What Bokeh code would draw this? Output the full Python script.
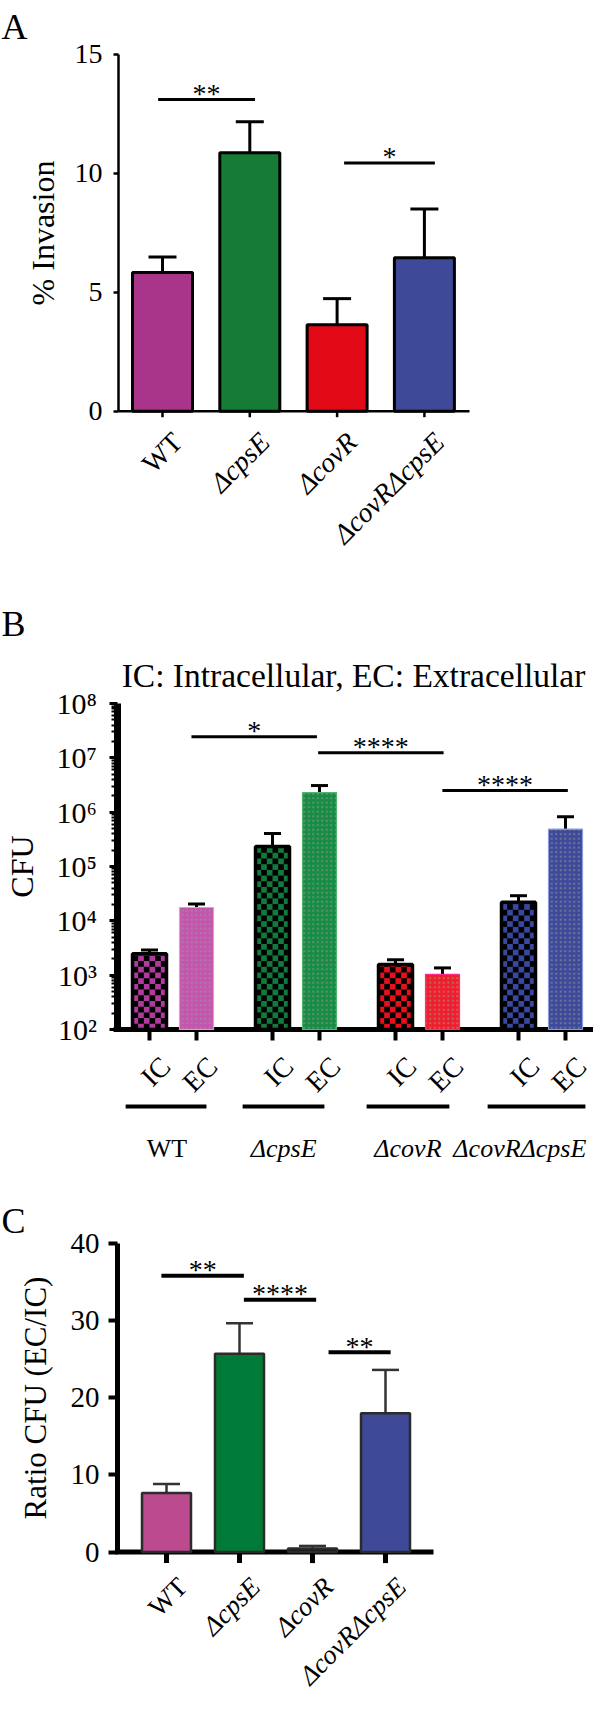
import math
from bokeh.plotting import figure
from bokeh.models import (LinearAxis, LogAxis, FixedTicker, CustomJSTickFormatter,
                          Range1d, ColumnDataSource, LogScale)
from bokeh.layouts import column
from bokeh.embed import file_html
from bokeh.resources import INLINE
from bokeh.core.properties import value, field

FONT = "Liberation Serif"
W = 593

# ---------------- data ----------------
strains = ["WT", "\u0394cpsE", "\u0394covR", "\u0394covR\u0394cpsE"]
strain_style = ["normal", "italic", "italic", "italic"]

# Panel A: % invasion
inv_mean = [5.83, 10.86, 3.63, 6.45]
inv_err = [0.65, 1.30, 1.10, 2.05]
inv_colors = ["#A8358A", "#157B35", "#E20A16", "#3E4A97"]
inv_ticks = [0, 5, 10, 15]
inv_sig_x0 = [-0.05, 2.08]
inv_sig_x1 = [1.06, 3.12]
inv_sig_y = [13.1, 10.43]
inv_sig_txt = ["**", "*"]

# Panel B: CFU (log)
cfu_ic = [2480, 233000, 1580, 22100]
cfu_ic_upper = [2900, 405000, 1920, 29000]
cfu_ec = [17600, 2300000, 1035, 486000]
cfu_ec_upper = [20500, 3090000, 1360, 824000]
ic_colors = ["#B03A9E", "#127A3C", "#E8101C", "#3848A0"]
ec_colors = ["#C455AD", "#168C44", "#F01E2C", "#3D4A9A"]
ec_edges = ["#E59AD0", "#52B472", "#FF2A8A", "#8F9AD8"]
cfu_decades = [1e2, 1e3, 1e4, 1e5, 1e6, 1e7, 1e8]
cfu_sig_x0 = [0.15, 1.18, 2.19]
cfu_sig_x1 = [1.17, 2.20, 3.21]
cfu_sig_y = [2.45e7, 1.245e7, 2.5e6]
cfu_sig_txt = ["*", "****", "****"]
bar_kind = ["IC", "EC"]

# Panel C: ratio EC/IC
ratio_mean = [7.64, 25.7, 0.48, 18.0]
ratio_err = [1.19, 3.95, 0.32, 5.6]
ratio_colors = ["#BB4A8F", "#007A37", "#1A1A1A", "#3E4A97"]
ratio_ticks = [0, 10, 20, 30, 40]
ratio_sig_x0 = [-0.07, 1.06, 2.22]
ratio_sig_x1 = [1.06, 2.05, 3.07]
ratio_sig_y = [35.8, 32.7, 25.9]
ratio_sig_txt = ["**", "****", "**"]


# ---------------- helpers ----------------
def make_fig(height, xr, yr):
    p = figure(width=W, height=height, x_range=Range1d(*xr), y_range=Range1d(*yr),
               x_axis_type=None, y_axis_type=None, toolbar_location=None,
               output_backend="svg", min_border=0, outline_line_color=None)
    p.min_border_left = p.min_border_right = 0
    p.min_border_top = p.min_border_bottom = 0
    p.background_fill_color = "white"
    p.border_fill_color = "white"
    return p


def txt(p, xs, ys, texts, size, align="center", baseline="alphabetic", angle=0.0, styles=None):
    if styles is None:
        styles = ["normal"] * len(texts)
    src = ColumnDataSource(dict(x=xs, y=ys, t=texts, s=styles))
    p.text(x="x", y="y", text="t", source=src, angle=angle,
           text_align=align, text_baseline=baseline,
           text_font=value(FONT), text_font_size=value(f"{size}px"),
           text_font_style=field("s"), text_color="black")


def style_axis(a, lw, tick_out, tick_w, label_size, standoff):
    a.axis_line_width = lw
    a.axis_line_color = "black"
    a.major_tick_line_width = tick_w
    a.major_tick_line_color = "black"
    a.major_tick_out = tick_out
    a.major_tick_in = 0
    a.minor_tick_out = 0
    a.minor_tick_in = 0
    a.major_label_text_font = FONT
    a.major_label_text_font_size = f"{label_size}px"
    a.major_label_text_color = "black"
    a.major_label_standoff = standoff
    a.axis_label_text_font = FONT
    a.axis_label_text_font_style = "normal"
    a.axis_label_text_color = "black"


def tick_marks(p, xs, y_top, y_bot, w):
    p.segment(x0=xs, y0=[y_top] * len(xs), x1=xs, y1=[y_bot] * len(xs),
              line_color="black", line_width=w)


idx = list(range(len(strains)))

# ================= Panel A =================
A_X0, A_XS, A_Y0, A_YS = 170.0, 87.3, 418.7, 23.8
A_TOP, A_BOT = 8, 610
def ax_(px): return (px - A_X0) / A_XS
def ay_(py): return (A_Y0 - py) / A_YS
def apy(v): return A_Y0 - v * A_YS

pa = make_fig(A_BOT - A_TOP, (ax_(8), ax_(601)), (ay_(A_BOT), ay_(A_TOP)))

ya = LinearAxis(fixed_location=ax_(126), bounds=(0, 15), ticker=FixedTicker(ticks=inv_ticks),
                axis_label="% Invasion")
style_axis(ya, 2.5, 5, 2.5, 28, 11)
ya.axis_label_text_font_size = "32px"
ya.axis_label_standoff = 11
pa.add_layout(ya, "left")
pa.segment(x0=[ax_(126)], y0=[0], x1=[ax_(477)], y1=[0], line_color="black", line_width=2.5)
tick_marks(pa, idx, 0, ay_(apy(0) + 6), 2.5)

srcA = ColumnDataSource(dict(x=idx, top=inv_mean,
                             up=[m + e for m, e in zip(inv_mean, inv_err)],
                             c=inv_colors))
pa.segment(x0="x", y0="top", x1="x", y1="up", source=srcA, line_color="black", line_width=3)
capA = 14 / A_XS
pa.segment(x0=[i - capA for i in idx], y0=srcA.data["up"], x1=[i + capA for i in idx],
           y1=srcA.data["up"], line_color="black", line_width=3)
pa.vbar(x="x", top="top", bottom=0, width=60 / A_XS, source=srcA, fill_color="c",
        line_color="black", line_width=3)
pa.segment(x0=inv_sig_x0, y0=inv_sig_y, x1=inv_sig_x1, y1=inv_sig_y, line_color="black", line_width=3)
txt(pa, [(a + b) / 2 for a, b in zip(inv_sig_x0, inv_sig_x1)],
    [ay_(apy(v) - 6) for v in inv_sig_y], inv_sig_txt, 28)
txt(pa, [i + 15 / A_XS for i in idx], [ay_(apy(0) + 26)] * 4, strains, 28,
    align="right", baseline="middle", angle=math.pi / 4, styles=strain_style)
txt(pa, [ax_(9)], [ay_(34)], ["A"], 36, align="left")

# ================= Panel B =================
B_X0, B_XS, B_Y0, B_YS = 180.5, 123.0, 1037.0, 54.33
B_TOP, B_BOT = 610, 1180
def bx(px): return (px - B_X0) / B_XS
def by(py): return 10 ** (2 + (B_Y0 - py) / B_YS)
def bpy(v): return B_Y0 - (math.log10(v) - 2) * B_YS

pb = make_fig(B_BOT - B_TOP, (bx(8), bx(601)), (by(B_BOT), by(B_TOP)))
pb.y_scale = LogScale()

minors = [m * d for d in cfu_decades[:-1] for m in range(2, 10)]
yb = LogAxis(fixed_location=bx(124.5), bounds=(1e2, 1e8),
             ticker=FixedTicker(ticks=cfu_decades, minor_ticks=minors),
             formatter=CustomJSTickFormatter(code=r"""
const sup = ["\u2070","\u00b9","\u00b2","\u00b3","\u2074","\u2075","\u2076","\u2077","\u2078","\u2079"];
const e = Math.round(Math.log10(tick));
return "10" + sup[e];
"""), axis_label="CFU")
style_axis(yb, 7, 8, 3, 30, 12)
yb.minor_tick_out = 6
yb.minor_tick_line_width = 2
yb.minor_tick_line_color = "black"
yb.axis_label_text_font_size = "32px"
yb.axis_label_standoff = 14
pb.add_layout(yb, "left")

ic_x = [g - 23.5 / B_XS for g in idx]
ec_x = [g + 23.5 / B_XS for g in idx]
pb.segment(x0=[bx(121)], y0=[1e2], x1=[bx(601)], y1=[1e2], line_color="black", line_width=5)
tick_marks(pb, ic_x + ec_x, 1e2, by(B_Y0 + 11), 4)

capB = 8.5 / B_XS
bw = 34 / B_XS
for xs, vals, ups in ((ic_x, cfu_ic, cfu_ic_upper), (ec_x, cfu_ec, cfu_ec_upper)):
    pb.segment(x0=xs, y0=vals, x1=xs, y1=ups, line_color="black", line_width=3)
    pb.segment(x0=[x - capB for x in xs], y0=ups, x1=[x + capB for x in xs], y1=ups,
               line_color="black", line_width=3)

# IC bars: colour fill with a black checkerboard texture, thick black outline
srcIC = ColumnDataSource(dict(x=ic_x, top=cfu_ic, c=ic_colors))
pb.vbar(x="x", top="top", bottom=1e2, width=bw, source=srcIC, fill_color="c", line_color=None)
SQ = 5.7  # checker square size in px
ncol = 6
cl, cr, ct, cb = [], [], [], []
for x, v in zip(ic_x, cfu_ic):
    top_px = bpy(v)
    nrow = int(math.ceil((B_Y0 - top_px) / SQ))
    for r in range(nrow):
        y0p = B_Y0 - r * SQ
        y1p = max(top_px, y0p - SQ)
        for c in range(ncol):
            if (r + c) % 2 == 0:
                cl.append(x - bw / 2 + c * bw / ncol)
                cr.append(x - bw / 2 + (c + 1) * bw / ncol)
                cb.append(by(y0p))
                ct.append(by(y1p))
pb.quad(left=cl, right=cr, top=ct, bottom=cb, fill_color="black", line_color=None)
pb.vbar(x="x", top="top", bottom=1e2, width=bw, source=srcIC, fill_color=None,
        line_color="black", line_width=3.5)

srcEC = ColumnDataSource(dict(x=ec_x, top=cfu_ec, c=ec_colors, e=ec_edges))
pb.vbar(x="x", top="top", bottom=1e2, width=bw, source=srcEC, fill_color="c",
        line_color="e", line_width=1.2,
        hatch_pattern="dot", hatch_color="#9a9a9a", hatch_scale=4.5, hatch_weight=1,
        hatch_alpha=0.55)

pb.segment(x0=cfu_sig_x0, y0=cfu_sig_y, x1=cfu_sig_x1, y1=cfu_sig_y, line_color="black", line_width=3)
txt(pb, [(a + b) / 2 for a, b in zip(cfu_sig_x0, cfu_sig_x1)],
    [by(bpy(v) - 6) for v in cfu_sig_y], cfu_sig_txt, 28)

lab_x = [x + 16 / B_XS for pair in zip(ic_x, ec_x) for x in pair]
lab_t = [k for _ in idx for k in bar_kind]
txt(pb, lab_x, [by(B_Y0 + 32)] * len(lab_x), lab_t, 28,
    align="right", baseline="middle", angle=math.pi / 4)

gl_off0 = [-0.385, -0.434, -0.426, -0.442]
gl_off1 = [0.272, 0.231, 0.247, 0.353]
gt_off = [-0.05, -0.10, -0.09, -0.18]
pb.segment(x0=[g + o for g, o in zip(idx, gl_off0)], y0=[by(1114)] * 4,
           x1=[g + o for g, o in zip(idx, gl_off1)], y1=[by(1114)] * 4,
           line_color="black", line_width=4)
txt(pb, [g + o for g, o in zip(idx, gt_off)], [by(1156)] * 4, strains, 26, styles=strain_style)
txt(pb, [bx(361)], [by(683)], ["IC: Intracellular, EC: Extracellular"], 33.5)
txt(pb, [bx(9)], [by(631)], ["B"], 36, align="left")

# ================= Panel C =================
C_X0, C_XS, C_Y0, C_YS = 174.0, 73.0, 1559.6, 7.72
C_TOP, C_BOT = 1180, 1702
def cx(px): return (px - C_X0) / C_XS
def cy(py): return (C_Y0 - py) / C_YS
def cpy(v): return C_Y0 - v * C_YS

pc = make_fig(C_BOT - C_TOP, (cx(8), cx(601)), (cy(C_BOT), cy(C_TOP)))
yc = LinearAxis(fixed_location=cx(125), bounds=(0, 40), ticker=FixedTicker(ticks=ratio_ticks),
                axis_label="Ratio CFU (EC/IC)")
style_axis(yc, 5, 9, 4, 29, 9)
yc.axis_label_text_font_size = "31px"
yc.axis_label_standoff = 15
pc.add_layout(yc, "left")
pc.segment(x0=[cx(123)], y0=[0], x1=[cx(441)], y1=[0], line_color="black", line_width=5)
tick_marks(pc, idx, 0, cy(cpy(0) + 11), 5)

srcC = ColumnDataSource(dict(x=idx, top=ratio_mean,
                             up=[m + e for m, e in zip(ratio_mean, ratio_err)],
                             c=ratio_colors))
pc.segment(x0="x", y0="top", x1="x", y1="up", source=srcC, line_color="#333333", line_width=2.5)
capC = 13.5 / C_XS
pc.segment(x0=[i - capC for i in idx], y0=srcC.data["up"], x1=[i + capC for i in idx],
           y1=srcC.data["up"], line_color="#333333", line_width=2.5)
pc.vbar(x="x", top="top", bottom=0, width=49 / C_XS, source=srcC, fill_color="c",
        line_color="#2B2B2B", line_width=2.5)
pc.segment(x0=ratio_sig_x0, y0=ratio_sig_y, x1=ratio_sig_x1, y1=ratio_sig_y,
           line_color="black", line_width=4)
txt(pc, [(a + b) / 2 for a, b in zip(ratio_sig_x0, ratio_sig_x1)],
    [cy(cpy(v) - 6) for v in ratio_sig_y], ratio_sig_txt, 28)
txt(pc, [i + 16 / C_XS for i in idx], [cy(cpy(0) + 30)] * 4, strains, 27,
    align="right", baseline="middle", angle=math.pi / 4, styles=strain_style)
txt(pc, [cx(9)], [cy(1228)], ["C"], 36, align="left")

layout = column(pa, pb, pc, spacing=0)
with open("out.html", "w", encoding="utf-8") as f:
    f.write(file_html(layout, INLINE))
